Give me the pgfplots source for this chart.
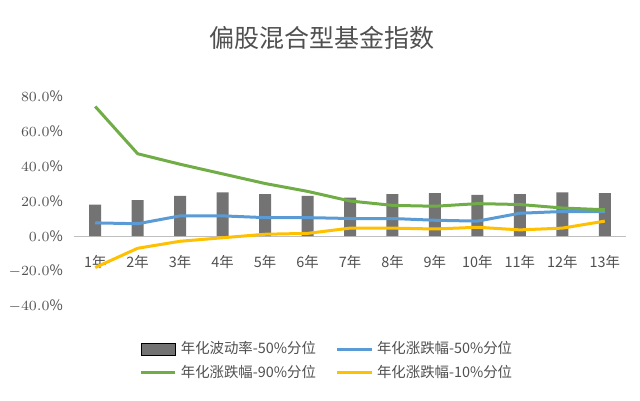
\documentclass[border=0pt]{standalone}
\usepackage{pgfplots}
\pgfplotsset{compat=1.18}
\usepackage{fontspec}
\setmainfont{Noto Sans CJK SC}
\definecolor{tgray}{HTML}{505050}
\begin{document}
\begin{tikzpicture}
\path (0,0) rectangle (320pt,200pt);
\node[text=tgray,font=\fontsize{12.5}{14}\selectfont] at (161pt,181pt) {偏股混合型基金指数};
\begin{axis}[at={(37pt,47pt)},anchor=south west,scale only axis,width=276pt,height=105pt,
 xmin=0.5,xmax=13.5,ymin=-40,ymax=80,
 axis x line*=middle, axis y line*=left, y axis line style={draw=none},
 x axis line style={draw=gray!50},
 xtick={1,...,13}, xticklabels={1年,2年,3年,4年,5年,6年,7年,8年,9年,10年,11年,12年,13年},
 ytick={-40,-20,0,20,40,60,80},
 yticklabel={\pgfmathprintnumber[fixed,fixed zerofill,precision=1]{\tick}\%},
 tick style={draw=none},
 ticklabel style={font=\fontsize{7.2}{8}\selectfont,text=tgray},
 yticklabel style={xshift=-2pt},
 xticklabel style={yshift=-6pt},
 legend columns=2,
 legend style={at={(0.46,-0.13)},anchor=north,draw=none,font=\fontsize{7.2}{8}\selectfont,text=tgray,/tikz/every even column/.append style={column sep=8pt}},
 legend cell align=left,
]
\addplot[ybar,bar width=6pt,fill=gray!90!black,draw=none,area legend] coordinates {(1,18)(2,20.5)(3,23)(4,25)(5,24)(6,23)(7,22)(8,24)(9,24.5)(10,23.5)(11,24)(12,25)(13,24.5)};
\addlegendentry{年化波动率-50\%分位}
\addplot[color={rgb,255:red,91;green,155;blue,213},line width=1.5pt,mark=none] coordinates {(1,7.5)(2,7)(3,11.5)(4,11.5)(5,10.5)(6,10.5)(7,10)(8,10)(9,9)(10,8.5)(11,13)(12,14)(13,14)};
\addlegendentry{年化涨跌幅-50\%分位}
\addplot[color={rgb,255:red,112;green,173;blue,71},line width=1.5pt,mark=none] coordinates {(1,74)(2,47)(3,41)(4,35.5)(5,30)(6,25.5)(7,20)(8,17.5)(9,17)(10,18.5)(11,18)(12,16)(13,15)};
\addlegendentry{年化涨跌幅-90\%分位}
\addplot[color={rgb,255:red,255;green,192;blue,0},line width=1.5pt,mark=none] coordinates {(1,-18)(2,-7)(3,-3)(4,-1)(5,1)(6,1.5)(7,4.5)(8,4.5)(9,4)(10,5)(11,3.5)(12,4.5)(13,8.5)};
\addlegendentry{年化涨跌幅-10\%分位}
\end{axis}
\end{tikzpicture}
\end{document}
